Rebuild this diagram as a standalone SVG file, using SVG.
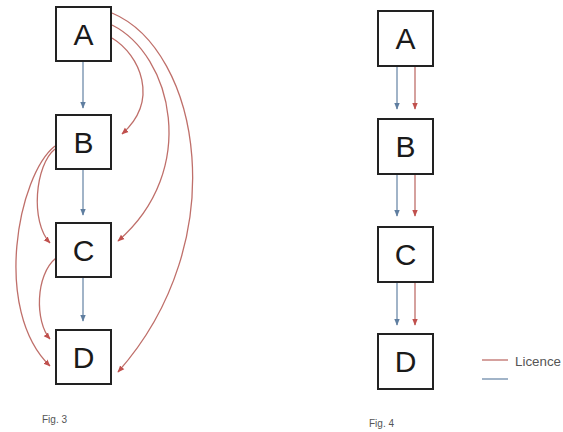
<svg xmlns="http://www.w3.org/2000/svg" width="563" height="432" viewBox="0 0 563 432">
<defs>
<style>
.box{fill:#fff;stroke:#222;stroke-width:2}
.lbl{font-family:"Liberation Sans",Arial,sans-serif;font-size:30px;fill:#1a1a1a;text-anchor:middle}
.red{fill:none;stroke:#bf6f6a;stroke-width:1.3}
.blue{fill:none;stroke:#6f8cab;stroke-width:1.3}
.cap{font-family:"Liberation Sans",Arial,sans-serif;font-size:10px;fill:#555}
</style>
<marker id="ar" viewBox="0 0 10 10" refX="9" refY="5" markerWidth="7" markerHeight="7" markerUnits="userSpaceOnUse" orient="auto">
<path d="M0,1 L10,5 L0,9 Z" fill="#c0504d"/>
</marker>
<marker id="ab" viewBox="0 0 10 10" refX="9" refY="5" markerWidth="7" markerHeight="7" markerUnits="userSpaceOnUse" orient="auto">
<path d="M0,1 L10,5 L0,9 Z" fill="#5f7ea0"/>
</marker>
</defs>
<rect width="563" height="432" fill="#fff"/>
<g id="connectors">
<path class="blue" d="M83,62 L83,108" marker-end="url(#ab)"/>
<path class="blue" d="M83,170 L83,215" marker-end="url(#ab)"/>
<path class="blue" d="M83,278 L83,321" marker-end="url(#ab)"/>
<path class="red" d="M112,38 C140,55 160,100 122,134" marker-end="url(#ar)"/>
<path class="red" d="M112,25 C172,55 200,170 118,241" marker-end="url(#ar)"/>
<path class="red" d="M112,13 C200,50 235,240 118,372" marker-end="url(#ar)"/>
<path class="red" d="M55,149 C35,165 30,222 50,243" marker-end="url(#ar)"/>
<path class="red" d="M55,146 C18,175 -8,310 50,366" marker-end="url(#ar)"/>
<path class="red" d="M56,258 C35,275 35,322 50,339" marker-end="url(#ar)"/>
<path class="blue" d="M397,67 L397,109" marker-end="url(#ab)"/>
<path class="red" d="M415,67 L415,109" marker-end="url(#ar)"/>
<path class="blue" d="M397,175 L397,216" marker-end="url(#ab)"/>
<path class="red" d="M415,175 L415,216" marker-end="url(#ar)"/>
<path class="blue" d="M397,283 L397,325" marker-end="url(#ab)"/>
<path class="red" d="M415,283 L415,325" marker-end="url(#ar)"/>
</g>
<g id="f3A"><rect class="box" x="56" y="7" width="55" height="54"/><text class="lbl" x="83.5" y="45">A</text></g>
<g id="f3B"><rect class="box" x="56" y="115" width="55" height="54"/><text class="lbl" x="83.5" y="153">B</text></g>
<g id="f3C"><rect class="box" x="56" y="223" width="55" height="54"/><text class="lbl" x="83.5" y="261">C</text></g>
<g id="f3D"><rect class="box" x="56" y="330" width="55" height="54"/><text class="lbl" x="83.5" y="368">D</text></g>
<g id="f4A"><rect class="box" x="378" y="11" width="55" height="55"/><text class="lbl" x="405.5" y="49">A</text></g>
<g id="f4B"><rect class="box" x="378" y="119" width="55" height="55"/><text class="lbl" x="405.5" y="157">B</text></g>
<g id="f4C"><rect class="box" x="378" y="227" width="55" height="55"/><text class="lbl" x="405.5" y="265">C</text></g>
<g id="f4D"><rect class="box" x="378" y="334" width="55" height="55"/><text class="lbl" x="405.5" y="372">D</text></g>
<g id="legend">
<line x1="482" y1="360" x2="508" y2="360" stroke="#bf6f6a" stroke-width="1.3"/>
<line x1="482" y1="379" x2="508" y2="379" stroke="#6f8cab" stroke-width="1.3"/>
<text x="515" y="366" font-family="'Liberation Sans',Arial,sans-serif" font-size="12" fill="#555" textLength="46" lengthAdjust="spacingAndGlyphs">Licence</text>
</g>
<text class="cap" x="42" y="423">Fig. 3</text>
<text class="cap" x="369" y="427">Fig. 4</text>
</svg>
